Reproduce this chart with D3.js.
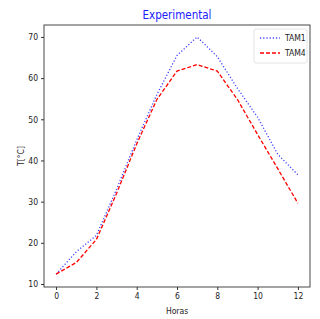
<!DOCTYPE html>
<html><head><meta charset="utf-8">
<script src="https://cdn.jsdelivr.net/npm/d3@7"></script>
<style>
body{margin:0;background:#fff;}
text{font-family:"DejaVu Sans",sans-serif;font-stretch:condensed;}
</style></head>
<body><svg id="c" width="320" height="319"></svg>
<script>
const hours = [0,1,2,3,4,5,6,7,8,9,10,11,12];
const tam1 = [12.4,17.8,21.8,33.0,45.0,56.0,65.5,70.0,65.2,57.5,50.5,41.5,36.5];
const tam4 = [12.4,15.2,20.8,32.0,44.0,54.8,61.7,63.3,61.7,54.8,46.3,38.0,29.6];
const xTicks = [0,2,4,6,8,10,12];
const yTicks = [10,20,30,40,50,60,70];
const seriesNames = ["TAM1","TAM4"];

const svg = d3.select("#c");
const L=44,R=310,T=25,B=287;
const x = d3.scaleLinear().domain([-0.6,12.6]).range([L,R]);
const y = d3.scaleLinear().domain([9.27,72.9]).range([B,T]);

const gx = svg.append("g").attr("transform",`translate(0,${B})`)
  .call(d3.axisBottom(x).tickValues(xTicks).tickSize(3).tickPadding(3));
const gy = svg.append("g").attr("transform",`translate(${L},0)`)
  .call(d3.axisLeft(y).tickValues(yTicks).tickSize(3).tickPadding(3));
[gx,gy].forEach(g=>{g.select(".domain").remove();g.selectAll("text").attr("font-size",8.5).attr("fill","#222");g.selectAll("line").attr("stroke","#333");});

svg.append("rect").attr("x",L).attr("y",T).attr("width",R-L).attr("height",B-T)
  .attr("fill","none").attr("stroke","#333").attr("stroke-width",0.9);

const line = d3.line().x((d,i)=>x(hours[i])).y(d=>y(d));
svg.append("path").datum(tam1).attr("d",line).attr("fill","none")
  .attr("stroke","#4040ff").attr("stroke-width",1.3).attr("stroke-dasharray","1.2,2");
svg.append("path").datum(tam4).attr("d",line).attr("fill","none")
  .attr("stroke","#ff0000").attr("stroke-width",1.3).attr("stroke-dasharray","4,2");

svg.append("text").attr("x",(L+R)/2).attr("y",19).attr("text-anchor","middle")
  .attr("font-size",11.5).attr("fill","#2020ff").text("Experimental");
svg.append("text").attr("x",(L+R)/2).attr("y",314).attr("text-anchor","middle")
  .attr("font-size",8.5).attr("fill","#222").text("Horas");
svg.append("text").attr("transform",`translate(24,${(T+B)/2}) rotate(-90)`).attr("text-anchor","middle")
  .attr("font-size",8.5).attr("fill","#222").text("T[°C]");

// legend
const lg = svg.append("g");
lg.append("rect").attr("x",254).attr("y",29).attr("width",53).attr("height",34).attr("rx",2)
  .attr("fill","#fff").attr("stroke","#ddd").attr("stroke-width",0.8);
const styles=[{c:"#4040ff",d:"1.2,2"},{c:"#ff0000",d:"4,2"}];
seriesNames.forEach((n,i)=>{
  const yy=38+i*15;
  lg.append("line").attr("x1",260).attr("x2",280).attr("y1",yy).attr("y2",yy)
    .attr("stroke",styles[i].c).attr("stroke-width",1.3).attr("stroke-dasharray",styles[i].d);
  lg.append("text").attr("x",285).attr("y",yy+3).attr("font-size",8.5).attr("fill","#222").text(n);
});
</script></body></html>
